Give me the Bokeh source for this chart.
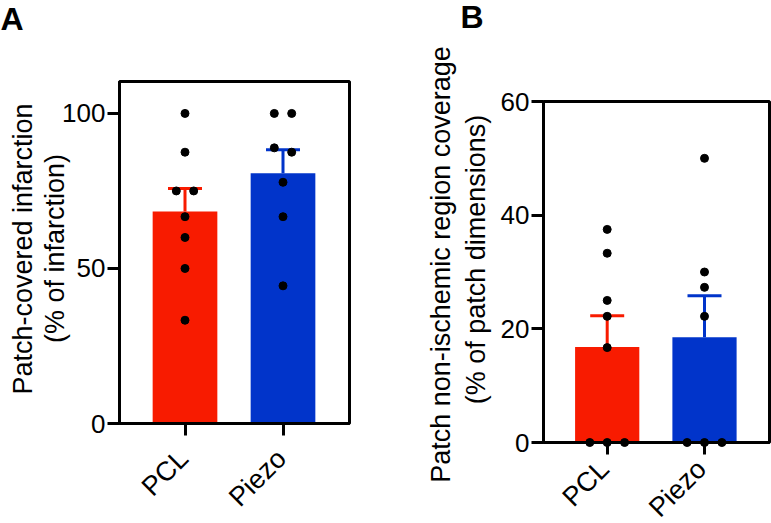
import math
from bokeh.plotting import figure
from bokeh.models import FixedTicker, Range1d
from bokeh.layouts import row, column
from bokeh.core.properties import value
from bokeh.embed import file_html
from bokeh.resources import INLINE

# ---------------- data ----------------
groups = ["PCL", "Piezo"]
colors = ["#F81B00", "#0134CA"]

# Panel A: patch-covered infarction (% of infarction)
a_pcl = [100, 87.5, 75, 75, 66.7, 60, 50, 33.3]
a_piezo = [100, 100, 88.9, 87.5, 77.8, 66.7, 44.4]
a_means = [68.4, 80.7]
a_sems = [7.4, 7.6]
a_ticks = [0, 50, 100]
a_ylabel = ["Patch-covered infarction", "(% of infarction)"]

# Panel B: patch non-ischemic region coverage (% of patch dimensions)
b_pcl = [37.5, 33.3, 25, 22.2, 16.7, 0, 0, 0]
b_piezo = [50, 30, 27.3, 22.2, 0, 0, 0]
b_means = [16.8, 18.5]
b_sems = [5.5, 7.3]
b_ticks = [0, 20, 40, 60]
b_ylabel = ["Patch non-ischemic region coverage", "(% of patch dimensions)"]

FONT = "Liberation Sans"
FIG_H = 523
MID = 0.35  # distance of the em-box middle above the baseline, in em


def swarm(vals, px_per_unit_y, px_per_unit_x, thresh_px=8.0, spacing_px=17.4):
    """Simple beeswarm: side-by-side offsets for dots that would overlap."""
    order = sorted(range(len(vals)), key=lambda i: -vals[i])
    clusters = []
    for i in order:
        if clusters and abs(vals[clusters[-1][-1]] - vals[i]) * px_per_unit_y < thresh_px:
            clusters[-1].append(i)
        else:
            clusters.append([i])
    offs = [0.0] * len(vals)
    for c in clusters:
        n = len(c)
        for k, i in enumerate(c):
            offs[i] = (k - (n - 1) / 2) * spacing_px / px_per_unit_x
    return offs


def panel(groups_vals, means, sems, ticks, ylabel, letter, g):
    fl, ft, fw, fh = g["frame_left"], g["frame_top"], g["frame_w"], g["frame_h"]
    ppx = g["px_per_cat"]
    x0 = -(g["first_center"] - fl) / ppx
    x1 = x0 + fw / ppx
    y1 = g["y_end"]
    bl = fl - g["page_left"]
    bt = ft
    p = figure(
        frame_width=fw, frame_height=fh,
        min_border_left=bl, min_border_right=g["fig_w"] - bl - fw,
        min_border_top=bt, min_border_bottom=FIG_H - bt - fh,
        x_range=Range1d(x0, x1), y_range=Range1d(0, y1),
        output_backend="svg", toolbar_location=None, tools="",
    )
    ppy = fh / y1

    def to_data(px, py):
        return x0 + (px - fl) / ppx, y1 - (py - ft) / ppy

    xs = list(range(len(groups)))
    p.vbar(x=xs, top=means, width=0.66, fill_color=colors, line_color=None)
    tops = [m + s for m, s in zip(means, sems)]
    cw = 17.0 / ppx
    p.segment(x0=xs, y0=means, x1=xs, y1=tops, line_color=colors, line_width=3)
    p.segment(x0=[x - cw for x in xs], y0=tops, x1=[x + cw for x in xs], y1=tops,
              line_color=colors, line_width=3)

    dx, dy = [], []
    for gi, vals in enumerate(groups_vals):
        offs = swarm(vals, ppy, ppx)
        dx += [gi + o for o in offs]
        dy += list(vals)
    p.scatter(x=dx, y=dy, size=8, fill_color="black", line_color="black", level="overlay")

    # axes style
    p.xgrid.visible = False
    p.ygrid.visible = False
    p.outline_line_color = "black"
    p.outline_line_width = 3
    p.outline_line_alpha = 1
    for ax in (p.xaxis[0], p.yaxis[0]):
        ax.axis_line_width = 3
        ax.axis_line_color = "black"
        ax.major_tick_line_width = 3
        ax.major_tick_line_color = "black"
        ax.major_tick_out = 12
        ax.major_tick_in = 0
        ax.minor_tick_line_color = None
        ax.major_label_text_color = "black"
        ax.major_label_text_font = FONT
    p.yaxis.ticker = FixedTicker(ticks=ticks)
    p.yaxis.major_label_text_font_size = "26px"
    p.yaxis.major_label_standoff = 2
    p.xaxis.ticker = FixedTicker(ticks=xs)
    # category names are drawn below as rotated text; the axis keeps only its ticks
    p.xaxis.major_label_text_color = None
    p.xaxis.major_label_text_font_size = "10px"
    p.xaxis.major_label_standoff = 0

    # category labels (rotated 45 degrees, ending at the tick)
    _, ly = to_data(0, ft + fh + g["cat_dy"])
    p.text(x=[x + g["cat_dx"] / ppx for x in xs], y=[ly] * len(xs), text=groups,
           angle=math.pi / 4, text_align="right", text_baseline="middle",
           text_font=value(FONT), text_font_size=value("27px"), text_color="black",
           level="overlay")

    # y-axis title (two lines), anchored on the middle of each line
    tx, ty = [], []
    for bx, cy in zip(g["label_base_px"], g["label_center_py"]):
        lx, ly = to_data(bx - MID * 27, cy)
        tx.append(lx)
        ty.append(ly)
    p.text(x=tx, y=ty, text=ylabel, angle=math.pi / 2,
           text_align="center", text_baseline="middle",
           text_font=value(FONT), text_font_size=value("27px"), text_color="black",
           level="overlay")

    # panel letter
    lx, ly = to_data(g["letter_px"], g["letter_base"] - MID * 32)
    p.text(x=[lx], y=[ly], text=[letter], text_align="left", text_baseline="middle",
           text_font=value(FONT), text_font_style="bold", text_font_size=value("32px"),
           text_color="black", level="overlay")
    return p


geom_a = dict(page_left=0, fig_w=400, frame_left=119, frame_top=81, frame_w=230, frame_h=342,
              first_center=184.5, px_per_cat=98.0, y_end=110.3,
              cat_dx=-1.5, cat_dy=30.5,
              label_base_px=[31.7, 63.5], label_center_py=[248.5, 248.0],
              letter_px=0, letter_base=30)
geom_b = dict(page_left=400, fig_w=371, frame_left=543, frame_top=101, frame_w=226, frame_h=341,
              first_center=606.7, px_per_cat=97.3, y_end=60,
              cat_dx=-3.0, cat_dy=22.0,
              label_base_px=[450, 485], label_center_py=[264, 259],
              letter_px=460, letter_base=28)

pa = panel([a_pcl, a_piezo], a_means, a_sems, a_ticks, a_ylabel, "A", geom_a)
pb = panel([b_pcl, b_piezo], b_means, b_sems, b_ticks, b_ylabel, "B", geom_b)

layout = row(column(pa), column(pb))
open("out.html", "w").write(file_html(layout, INLINE))
